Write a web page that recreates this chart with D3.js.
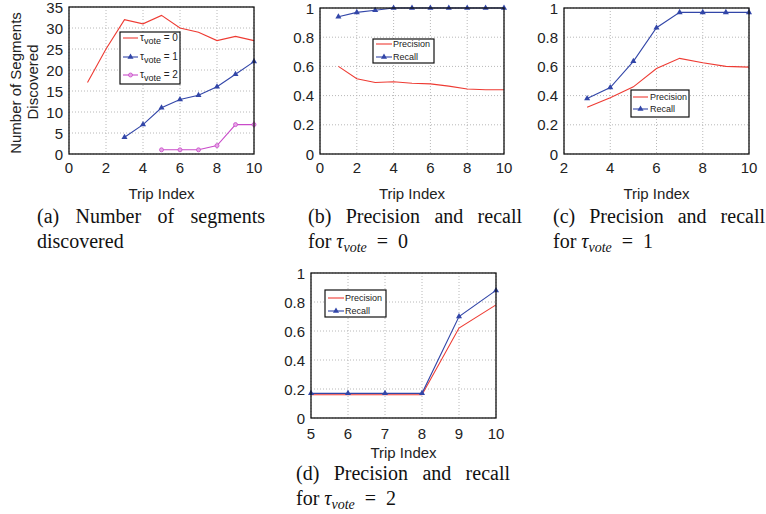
<!DOCTYPE html>
<html lang="en">
<head>
<meta charset="utf-8">
<title>Segments, precision and recall</title>
<script src="https://cdnjs.cloudflare.com/ajax/libs/d3/7.8.5/d3.min.js"></script>
<style>
  body { margin: 0; background: #fff; }
  svg { display: block; }
</style>
</head>
<body>
<script>
// ---- data ----
const tripA = [1, 2, 3, 4, 5, 6, 7, 8, 9, 10];
const segTau0 = [17, 25, 32, 31, 33, 30, 29, 27, 28, 27];
const tripTau1 = [3, 4, 5, 6, 7, 8, 9, 10];
const segTau1 = [4, 7, 11, 13, 14, 16, 19, 22];
const tripTau2 = [5, 6, 7, 8, 9, 10];
const segTau2 = [1, 1, 1, 2, 7, 7];

const tripB = [1, 2, 3, 4, 5, 6, 7, 8, 9, 10];
const precB = [0.60, 0.515, 0.49, 0.495, 0.485, 0.48, 0.465, 0.445, 0.44, 0.44];
const recB = [0.94, 0.97, 0.985, 1, 1, 1, 1, 1, 1, 1];

const tripC = [3, 4, 5, 6, 7, 8, 9, 10];
const precC = [0.32, 0.385, 0.46, 0.585, 0.655, 0.625, 0.60, 0.595];
const recC = [0.38, 0.455, 0.635, 0.865, 0.97, 0.97, 0.97, 0.97];

const tripD = [5, 6, 7, 8, 9, 10];
const precD = [0.16, 0.16, 0.16, 0.16, 0.62, 0.78];
const recD = [0.17, 0.17, 0.17, 0.17, 0.70, 0.88];

const ticksA = [0, 5, 10, 15, 20, 25, 30, 35];
const ticksPR = [0, 0.2, 0.4, 0.6, 0.8, 1];

var RED = "#ee3b33", BLUE = "#3246a8", MAG = "#c94bc9";
var sans = "'Liberation Sans', Arial, sans-serif";
var serif = "'Liberation Serif', 'Times New Roman', serif";

var svg = d3.select("body").append("svg")
  .attr("width", 766).attr("height", 514);

function zip(xs, ys) { return xs.map(function(x, i) { return [x, ys[i]]; }); }

function panel(o) {
  var g = svg.append("g");
  var x = d3.scaleLinear().domain(o.xDomain).range([o.left, o.right]);
  var y = d3.scaleLinear().domain(o.yDomain).range([o.bottom, o.top]);

  // dotted grid
  g.selectAll(".gx").data(o.xTicks).enter().append("line")
    .attr("x1", d => x(d)).attr("x2", d => x(d))
    .attr("y1", o.top).attr("y2", o.bottom)
    .attr("stroke", "#b8b8b8").attr("stroke-width", 1).attr("stroke-dasharray", "1,2");
  g.selectAll(".gy").data(o.yTicks).enter().append("line")
    .attr("x1", o.left).attr("x2", o.right)
    .attr("y1", d => y(d)).attr("y2", d => y(d))
    .attr("stroke", "#b8b8b8").attr("stroke-width", 1).attr("stroke-dasharray", "1,2");

  // series
  var line = d3.line().x(d => x(d[0])).y(d => y(d[1]));
  o.series.forEach(function(s) {
    var pts = zip(s.x, s.y);
    g.append("path").datum(pts).attr("d", line)
      .attr("fill", "none").attr("stroke", s.color).attr("stroke-width", 1.1);
    if (s.marker == "tri") {
      g.selectAll(null).data(pts).enter().append("path")
        .attr("d", d3.symbol(d3.symbolTriangle, 16))
        .attr("transform", d => "translate(" + x(d[0]) + "," + y(d[1]) + ")")
        .attr("fill", s.color);
    } else if (s.marker == "circ") {
      g.selectAll(null).data(pts).enter().append("circle")
        .attr("cx", d => x(d[0])).attr("cy", d => y(d[1])).attr("r", 2)
        .attr("fill", "#e6a6e6").attr("stroke", s.color).attr("stroke-width", 0.8);
    }
  });

  // frame
  g.append("rect").attr("x", o.left).attr("y", o.top)
    .attr("width", o.right - o.left).attr("height", o.bottom - o.top)
    .attr("fill", "none").attr("stroke", "#111").attr("stroke-width", 1.3);

  // tick labels
  g.selectAll(".tx").data(o.xTicks).enter().append("text")
    .attr("x", d => x(d)).attr("y", o.bottom + o.xLabGap)
    .attr("text-anchor", "middle").attr("dominant-baseline", "central")
    .attr("font-family", sans).attr("font-size", 15).attr("fill", "#222")
    .text(d => d);
  g.selectAll(".ty").data(o.yTicks).enter().append("text")
    .attr("x", o.left - 6).attr("y", d => y(d))
    .attr("text-anchor", "end").attr("dominant-baseline", "central")
    .attr("font-family", sans).attr("font-size", 15).attr("fill", "#222")
    .text(d => d);

  g.append("text").attr("x", (o.left + o.right) / 2).attr("y", o.titleY)
    .attr("text-anchor", "middle").attr("dominant-baseline", "central")
    .attr("font-family", sans).attr("font-size", 15).attr("fill", "#222")
    .text("Trip Index");

  // legend
  var L = o.legend;
  g.append("rect").attr("x", L.x0).attr("y", L.y0)
    .attr("width", L.x1 - L.x0).attr("height", L.y1 - L.y0)
    .attr("fill", "#fff").attr("stroke", "#111").attr("stroke-width", 1.2);
  o.series.forEach(function(s, i) {
    var ry = L.rows[i];
    g.append("line").attr("x1", L.lx0).attr("x2", L.lx1).attr("y1", ry).attr("y2", ry)
      .attr("stroke", s.color).attr("stroke-width", 1.1);
    var mx = (L.lx0 + L.lx1) / 2;
    if (s.marker == "tri") {
      g.append("path").attr("d", d3.symbol(d3.symbolTriangle, 16))
        .attr("transform", "translate(" + mx + "," + ry + ")").attr("fill", s.color);
    } else if (s.marker == "circ") {
      g.append("circle").attr("cx", mx).attr("cy", ry).attr("r", 2)
        .attr("fill", "#e6a6e6").attr("stroke", s.color).attr("stroke-width", 0.8);
    }
    var t = g.append("text").attr("x", L.tx).attr("y", ry + 3.3)
      .attr("font-family", sans).attr("font-size", L.fs).attr("fill", "#222");
    if (s.tau !== undefined) {
      t.append("tspan").text("\u03c4");
      t.append("tspan").attr("font-size", L.fs - 1).attr("dy", 3).text("vote");
      t.append("tspan").attr("dy", -3).text(" = " + s.tau);
    } else {
      t.text(s.name);
    }
  });
  return g;
}

// ---- panels ----
panel({
  left: 69, right: 254, top: 7, bottom: 154,
  xDomain: [0, 10], xTicks: [0, 2, 4, 6, 8, 10],
  yDomain: [0, 35], yTicks: ticksA,
  xLabGap: 13, titleY: 193,
  series: [
    { x: tripA, y: segTau0, color: RED, marker: null, tau: 0 },
    { x: tripTau1, y: segTau1, color: BLUE, marker: "tri", tau: 1 },
    { x: tripTau2, y: segTau2, color: MAG, marker: "circ", tau: 2 }
  ],
  legend: { x0: 120, x1: 180, y0: 32, y1: 84, rows: [38, 57, 75], lx0: 123, lx1: 138, tx: 140, fs: 10 }
});

panel({
  left: 320, right: 504, top: 8, bottom: 154,
  xDomain: [0, 10], xTicks: [0, 2, 4, 6, 8, 10],
  yDomain: [0, 1], yTicks: ticksPR,
  xLabGap: 13, titleY: 193,
  series: [
    { x: tripB, y: precB, color: RED, marker: null, name: "Precision" },
    { x: tripB, y: recB, color: BLUE, marker: "tri", name: "Recall" }
  ],
  legend: { x0: 373, x1: 434, y0: 39, y1: 63, rows: [44, 57], lx0: 376, lx1: 392, tx: 393, fs: 9 }
});

panel({
  left: 564, right: 749, top: 8, bottom: 154,
  xDomain: [2, 10], xTicks: [2, 4, 6, 8, 10],
  yDomain: [0, 1], yTicks: ticksPR,
  xLabGap: 13, titleY: 193,
  series: [
    { x: tripC, y: precC, color: RED, marker: null, name: "Precision" },
    { x: tripC, y: recC, color: BLUE, marker: "tri", name: "Recall" }
  ],
  legend: { x0: 631, x1: 689, y0: 90, y1: 117, rows: [97, 109], lx0: 633, lx1: 648, tx: 650, fs: 9 }
});

panel({
  left: 311, right: 496, top: 273, bottom: 418,
  xDomain: [5, 10], xTicks: [5, 6, 7, 8, 9, 10],
  yDomain: [0, 1], yTicks: ticksPR,
  xLabGap: 15, titleY: 452,
  series: [
    { x: tripD, y: precD, color: RED, marker: null, name: "Precision" },
    { x: tripD, y: recD, color: BLUE, marker: "tri", name: "Recall" }
  ],
  legend: { x0: 325, x1: 386, y0: 290, y1: 317, rows: [298, 311], lx0: 328, lx1: 344, tx: 345, fs: 9 }
});

// y axis title of panel (a)
svg.append("text")
  .attr("transform", "translate(15,83) rotate(-90)")
  .attr("text-anchor", "middle").attr("dominant-baseline", "central")
  .attr("font-family", sans).attr("font-size", 15).attr("fill", "#222")
  .text("Number of Segments");
svg.append("text")
  .attr("transform", "translate(32,82) rotate(-90)")
  .attr("text-anchor", "middle").attr("dominant-baseline", "central")
  .attr("font-family", sans).attr("font-size", 15).attr("fill", "#222")
  .text("Discovered");

// ---- captions ----
var CAP = 20;
function justified(words, x0, x1, y) {
  var ts = words.map(function(w) {
    return svg.append("text").attr("y", y)
      .attr("font-family", serif).attr("font-size", CAP).attr("fill", "#111").text(w);
  });
  var widths = ts.map(t => t.node().getComputedTextLength());
  var gap = (x1 - x0 - d3.sum(widths)) / (words.length - 1);
  var cx = x0;
  ts.forEach(function(t, i) { t.attr("x", cx); cx += widths[i] + gap; });
}
function plain(str, x, y) {
  svg.append("text").attr("x", x).attr("y", y)
    .attr("font-family", serif).attr("font-size", CAP).attr("fill", "#111").text(str);
}
function tauLine(val, x, y) {
  var t = svg.append("text").attr("x", x).attr("y", y)
    .attr("font-family", serif).attr("font-size", CAP).attr("fill", "#111")
    .attr("xml:space", "preserve");
  t.append("tspan").text("for ");
  t.append("tspan").attr("font-style", "italic").text("\u03c4");
  t.append("tspan").attr("font-style", "italic").attr("font-size", 14).attr("dy", 4).text("vote");
  t.append("tspan").attr("dy", -4).text("  =  " + val);
}

justified(["(a)", "Number", "of", "segments"], 37, 265, 223);
plain("discovered", 37, 248);
justified(["(b)", "Precision", "and", "recall"], 308, 522, 223);
tauLine(0, 308, 248);
justified(["(c)", "Precision", "and", "recall"], 553, 765, 223);
tauLine(1, 553, 248);
justified(["(d)", "Precision", "and", "recall"], 296, 510, 480);
tauLine(2, 296, 505);
</script>
</body>
</html>
